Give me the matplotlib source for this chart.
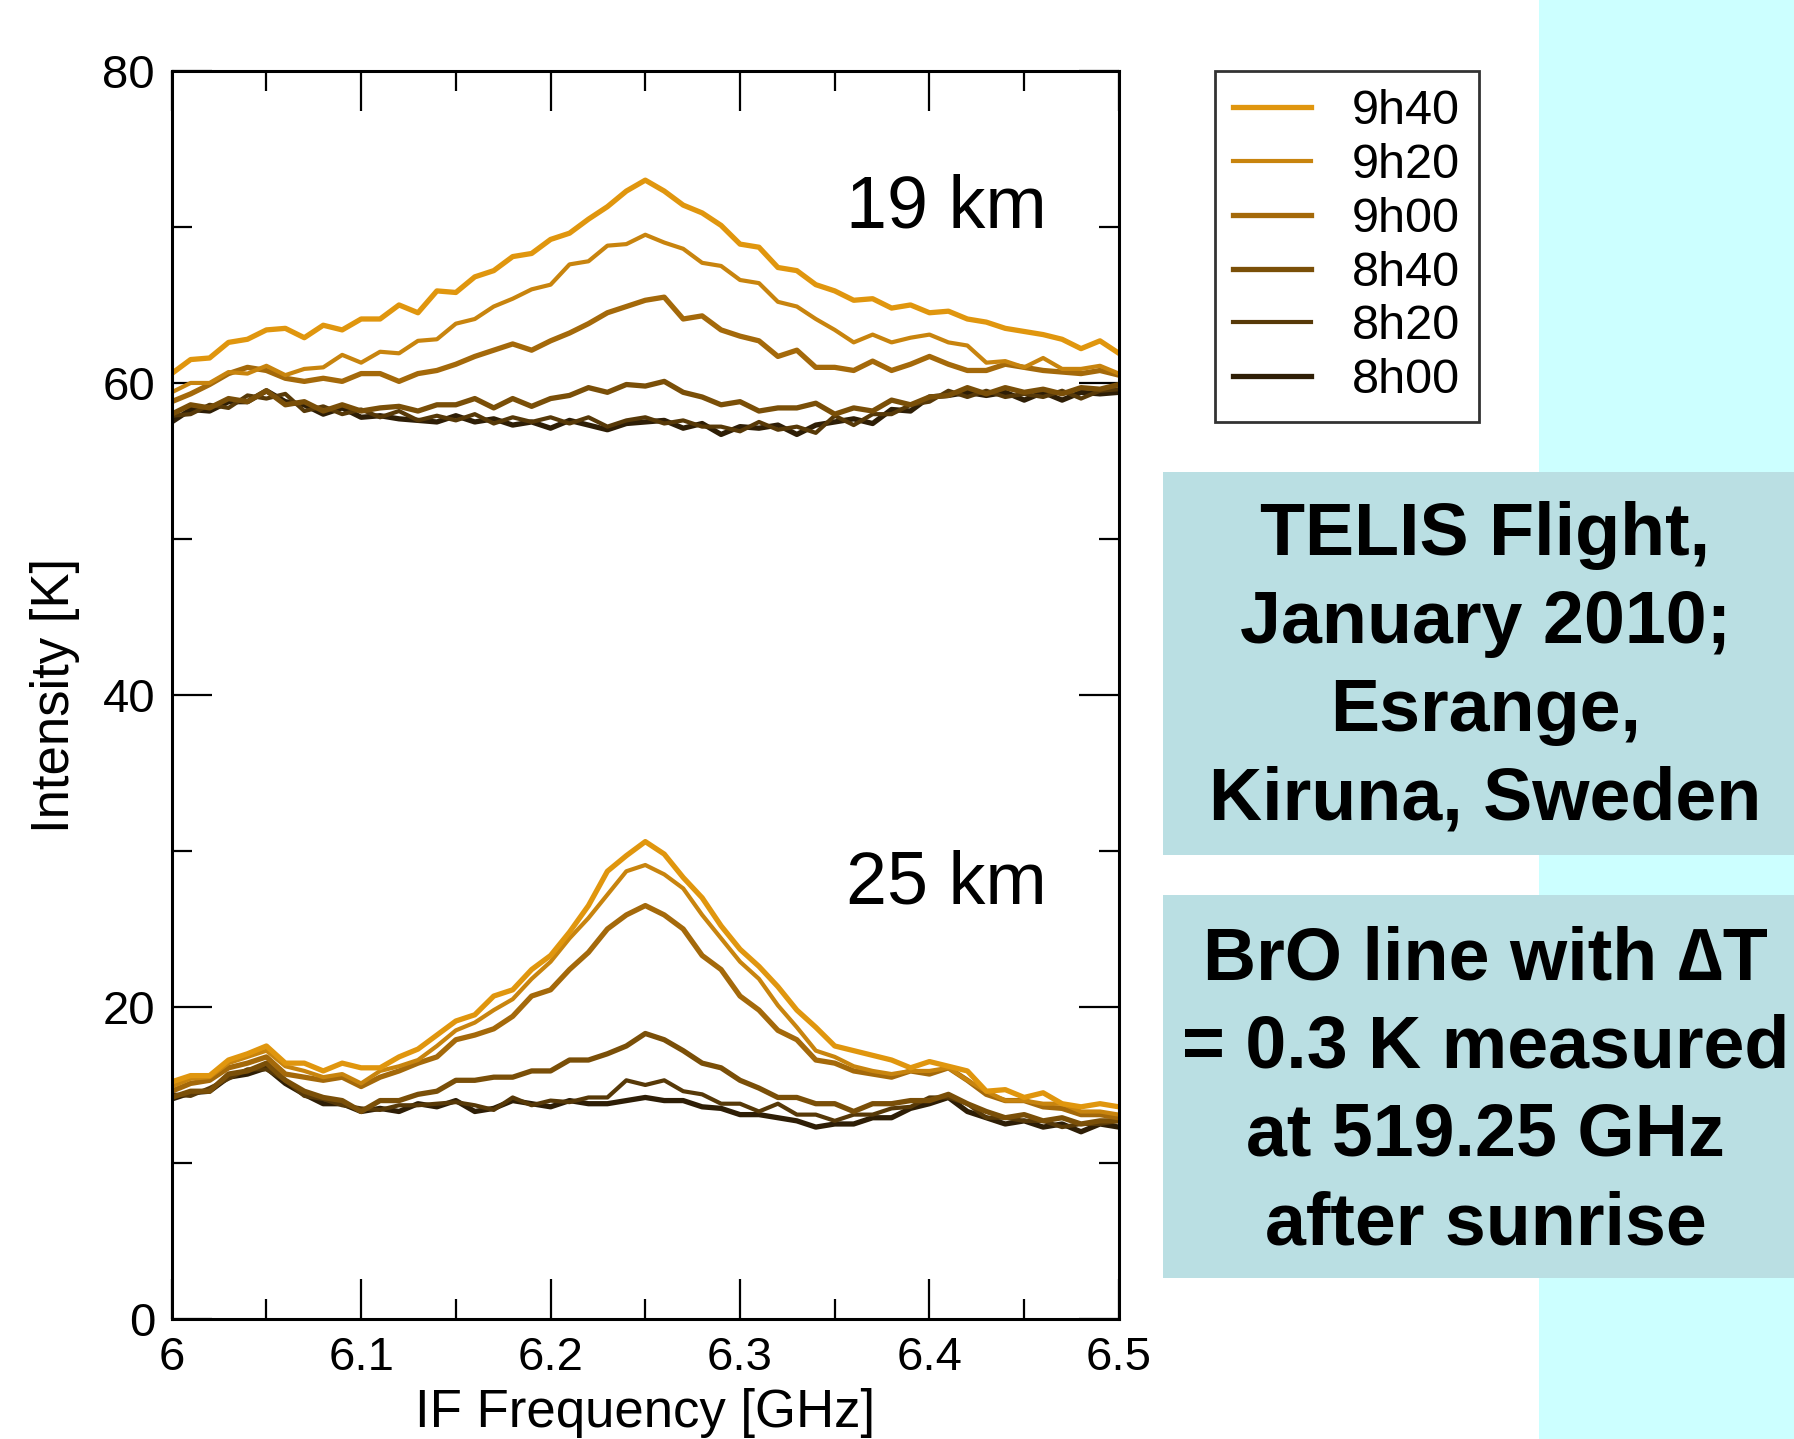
import numpy as np
import matplotlib
matplotlib.use("Agg")
import matplotlib.pyplot as plt
from matplotlib.ticker import MultipleLocator
from matplotlib.patches import Rectangle

plt.rcParams['font.family'] = ['Liberation Sans', 'DejaVu Sans']

# IF frequency grid [GHz]
freq = np.round(np.arange(6.0, 6.5001, 0.01), 2)

times = ['9h40', '9h20', '9h00', '8h40', '8h20', '8h00']
colors = ['#E0960E', '#C8840E', '#A4690A', '#7A4F08', '#573908', '#2E1E06']
widths = [3.8, 3.0, 3.8, 3.8, 3.0, 3.8]

# 19 km spectra [K]
km19_9h40 = [60.6, 61.5, 61.6, 62.6, 62.8, 63.4, 63.5, 62.9, 63.7, 63.4, 64.1, 64.1, 65.0,
             64.5, 65.9, 65.8, 66.8, 67.2, 68.1, 68.3, 69.2, 69.6, 70.5, 71.3, 72.3, 73.0,
             72.3, 71.4, 70.9, 70.1, 68.9, 68.7, 67.4, 67.2, 66.3, 65.9, 65.3, 65.4, 64.8,
             65.0, 64.5, 64.6, 64.1, 63.9, 63.5, 63.3, 63.1, 62.8, 62.2, 62.7, 61.9]
km19_9h20 = [59.4, 60.0, 60.0, 60.7, 60.6, 61.1, 60.5, 60.9, 61.0, 61.8, 61.3, 62.0, 61.9,
             62.7, 62.8, 63.8, 64.1, 64.9, 65.4, 66.0, 66.3, 67.6, 67.8, 68.8, 68.9, 69.5,
             69.0, 68.6, 67.7, 67.5, 66.6, 66.4, 65.2, 64.9, 64.1, 63.4, 62.6, 63.1, 62.6,
             62.9, 63.1, 62.6, 62.4, 61.3, 61.4, 61.0, 61.6, 60.9, 60.9, 61.1, 60.6]
km19_9h00 = [58.8, 59.3, 59.9, 60.6, 61.0, 60.8, 60.3, 60.1, 60.3, 60.1, 60.6, 60.6, 60.1,
             60.6, 60.8, 61.2, 61.7, 62.1, 62.5, 62.1, 62.7, 63.2, 63.8, 64.5, 64.9, 65.3,
             65.5, 64.1, 64.3, 63.4, 63.0, 62.7, 61.7, 62.1, 61.0, 61.0, 60.8, 61.4, 60.8,
             61.2, 61.7, 61.2, 60.8, 60.8, 61.2, 61.0, 60.8, 60.7, 60.6, 60.8, 60.5]
km19_8h40 = [58.0, 58.6, 58.4, 59.0, 58.8, 59.5, 58.6, 58.8, 58.2, 58.6, 58.2, 58.4, 58.5,
             58.2, 58.6, 58.6, 59.0, 58.4, 59.0, 58.5, 59.0, 59.2, 59.7, 59.4, 59.9, 59.8,
             60.1, 59.4, 59.1, 58.6, 58.8, 58.2, 58.4, 58.4, 58.7, 58.0, 58.4, 58.2, 58.9,
             58.6, 59.1, 59.2, 59.7, 59.3, 59.7, 59.4, 59.6, 59.3, 59.7, 59.6, 59.9]
km19_8h20 = [57.9, 58.0, 58.6, 58.4, 59.2, 59.0, 59.3, 58.2, 58.5, 58.0, 58.3, 57.8, 58.2,
             57.6, 57.9, 57.6, 58.0, 57.4, 57.8, 57.5, 57.8, 57.4, 57.8, 57.2, 57.6, 57.8,
             57.4, 57.6, 57.2, 57.2, 56.9, 57.5, 57.0, 57.2, 56.8, 57.9, 57.3, 58.0, 58.0,
             58.6, 58.8, 59.5, 59.1, 59.5, 59.1, 59.3, 59.1, 59.5, 59.0, 59.5, 59.6]
km19_8h00 = [57.5, 58.3, 58.2, 58.8, 58.8, 59.5, 58.8, 58.6, 58.0, 58.4, 57.8, 57.9, 57.7,
             57.6, 57.5, 57.9, 57.5, 57.7, 57.3, 57.5, 57.1, 57.6, 57.3, 57.0, 57.4, 57.5,
             57.6, 57.1, 57.4, 56.7, 57.2, 57.1, 57.3, 56.7, 57.3, 57.5, 57.7, 57.4, 58.3,
             58.2, 59.1, 59.2, 59.4, 59.2, 59.4, 58.9, 59.4, 58.9, 59.4, 59.3, 59.4]

# 25 km spectra [K]
km25_9h40 = [15.2, 15.6, 15.6, 16.6, 17.0, 17.5, 16.4, 16.4, 15.9, 16.4, 16.1, 16.1, 16.8,
             17.3, 18.2, 19.1, 19.5, 20.7, 21.1, 22.4, 23.3, 24.8, 26.5, 28.7, 29.7, 30.6,
             29.8, 28.3, 27.0, 25.2, 23.7, 22.6, 21.3, 19.8, 18.7, 17.5, 17.2, 16.9, 16.6,
             16.1, 16.5, 16.2, 15.9, 14.6, 14.7, 14.2, 14.5, 13.8, 13.6, 13.8, 13.6]
km25_9h20 = [14.9, 15.4, 15.5, 16.4, 16.8, 17.2, 16.2, 15.9, 15.5, 15.7, 15.1, 15.9, 16.2,
             16.6, 17.5, 18.5, 19.0, 19.8, 20.5, 21.8, 22.9, 24.4, 25.7, 27.2, 28.7, 29.1,
             28.5, 27.6, 25.9, 24.4, 22.9, 21.8, 20.1, 18.7, 17.2, 16.8, 16.2, 15.9, 15.7,
             15.9, 15.9, 16.1, 15.3, 14.6, 14.0, 14.0, 13.8, 13.8, 13.3, 13.3, 13.1]
km25_9h00 = [14.6, 15.1, 15.3, 16.1, 16.4, 16.8, 15.7, 15.5, 15.3, 15.5, 14.9, 15.5, 15.9,
             16.4, 16.8, 17.9, 18.2, 18.6, 19.4, 20.7, 21.1, 22.4, 23.5, 25.0, 25.9, 26.5,
             25.9, 25.0, 23.3, 22.4, 20.7, 19.8, 18.5, 17.9, 16.6, 16.4, 15.9, 15.7, 15.5,
             15.9, 15.7, 16.1, 15.3, 14.4, 14.0, 14.0, 13.6, 13.5, 13.1, 13.1, 12.9]
km25_8h40 = [14.2, 14.6, 14.6, 15.7, 15.9, 16.4, 15.3, 14.6, 14.2, 14.0, 13.3, 14.0, 14.0,
             14.4, 14.6, 15.3, 15.3, 15.5, 15.5, 15.9, 15.9, 16.6, 16.6, 17.0, 17.5, 18.3,
             17.9, 17.2, 16.4, 16.1, 15.3, 14.8, 14.2, 14.2, 13.8, 13.8, 13.3, 13.8, 13.8,
             14.0, 14.0, 14.4, 13.8, 13.3, 12.9, 13.1, 12.7, 12.9, 12.5, 12.7, 12.7]
km25_8h20 = [14.4, 14.3, 14.8, 15.4, 16.0, 16.0, 15.3, 14.3, 14.1, 13.7, 13.5, 13.4, 13.7,
             13.7, 13.8, 13.9, 13.7, 13.4, 14.2, 13.7, 14.0, 13.9, 14.2, 14.2, 15.3, 15.0,
             15.3, 14.6, 14.4, 13.8, 13.8, 13.3, 13.8, 13.1, 13.1, 12.7, 13.1, 13.1, 13.5,
             13.6, 14.2, 14.2, 13.8, 12.9, 12.9, 12.7, 12.7, 12.3, 12.5, 12.5, 12.7]
km25_8h00 = [14.1, 14.5, 14.6, 15.5, 15.7, 16.1, 15.1, 14.4, 13.8, 13.8, 13.3, 13.5, 13.3,
             13.8, 13.6, 14.0, 13.3, 13.5, 14.0, 13.8, 13.6, 14.0, 13.8, 13.8, 14.0, 14.2,
             14.0, 14.0, 13.6, 13.5, 13.1, 13.1, 12.9, 12.7, 12.3, 12.5, 12.5, 12.9, 12.9,
             13.5, 13.8, 14.2, 13.3, 12.9, 12.5, 12.7, 12.3, 12.5, 12.0, 12.5, 12.3]

spectra_19 = [km19_9h40, km19_9h20, km19_9h00, km19_8h40, km19_8h20, km19_8h00]
spectra_25 = [km25_9h40, km25_9h20, km25_9h00, km25_8h40, km25_8h20, km25_8h00]

box1_text = "TELIS Flight,\nJanuary 2010;\nEsrange,\nKiruna, Sweden"
box2_text = "BrO line with \u2206T\n= 0.3 K measured\nat 519.25 GHz\nafter sunrise"

fig = plt.figure(figsize=(17.94, 14.39), dpi=100)

# cyan strip on the right and the two info boxes
fig.patches.append(Rectangle((0.858, 0), 0.142, 1, transform=fig.transFigure,
                             facecolor='#CCFFFF', edgecolor='none', zorder=0))
fig.patches.append(Rectangle((0.648, 0.406), 0.352, 0.266, transform=fig.transFigure,
                             facecolor='#BADFE3', edgecolor='none', zorder=1))
fig.patches.append(Rectangle((0.648, 0.112), 0.352, 0.266, transform=fig.transFigure,
                             facecolor='#BADFE3', edgecolor='none', zorder=1))
fig.text(0.828, 0.536, box1_text, ha='center', va='center', fontsize=53,
         fontweight='bold', linespacing=1.36, zorder=2)
fig.text(0.828, 0.241, box2_text, ha='center', va='center', fontsize=53,
         fontweight='bold', linespacing=1.36, zorder=2)

ax = fig.add_axes([0.0957, 0.0834, 0.528, 0.8673])

handles = []
for i in range(len(times) - 1, -1, -1):
    ln, = ax.plot(freq, spectra_19[i], color=colors[i], lw=widths[i], label=times[i])
    ax.plot(freq, spectra_25[i], color=colors[i], lw=widths[i])
    handles.insert(0, ln)

ax.text(6.462, 71.2, "19 km", ha='right', va='center', fontsize=53)
ax.text(6.462, 27.9, "25 km", ha='right', va='center', fontsize=53)

ax.set_xlim(6.0, 6.5)
ax.set_ylim(0, 80)
ax.xaxis.set_major_locator(MultipleLocator(0.1))
ax.xaxis.set_minor_locator(MultipleLocator(0.05))
ax.yaxis.set_major_locator(MultipleLocator(20))
ax.yaxis.set_minor_locator(MultipleLocator(10))
ax.set_xticks([6.0, 6.1, 6.2, 6.3, 6.4, 6.5])
ax.set_xticklabels(['6', '6.1', '6.2', '6.3', '6.4', '6.5'])
ax.tick_params(which='both', direction='in', top=True, right=True, width=1.6,
               labelsize=34, pad=12)
ax.tick_params(which='major', length=29)
ax.tick_params(which='minor', length=14.5)
for sp in ax.spines.values():
    sp.set_linewidth(2.2)

ax.set_xlabel("IF Frequency [GHz]", fontsize=38, labelpad=6)
ax.set_ylabel("Intensity [K]", fontsize=38, labelpad=16)

leg = fig.legend(handles=handles, labels=times, loc='upper left',
                 bbox_to_anchor=(0.677, 0.9507), fontsize=35, frameon=True,
                 fancybox=False, edgecolor='black', handlelength=1.6,
                 handletextpad=0.85, labelspacing=0.18, borderpad=0.38,
                 borderaxespad=0)
leg.get_frame().set_linewidth(2)

fig.savefig("out.png", dpi=100)
